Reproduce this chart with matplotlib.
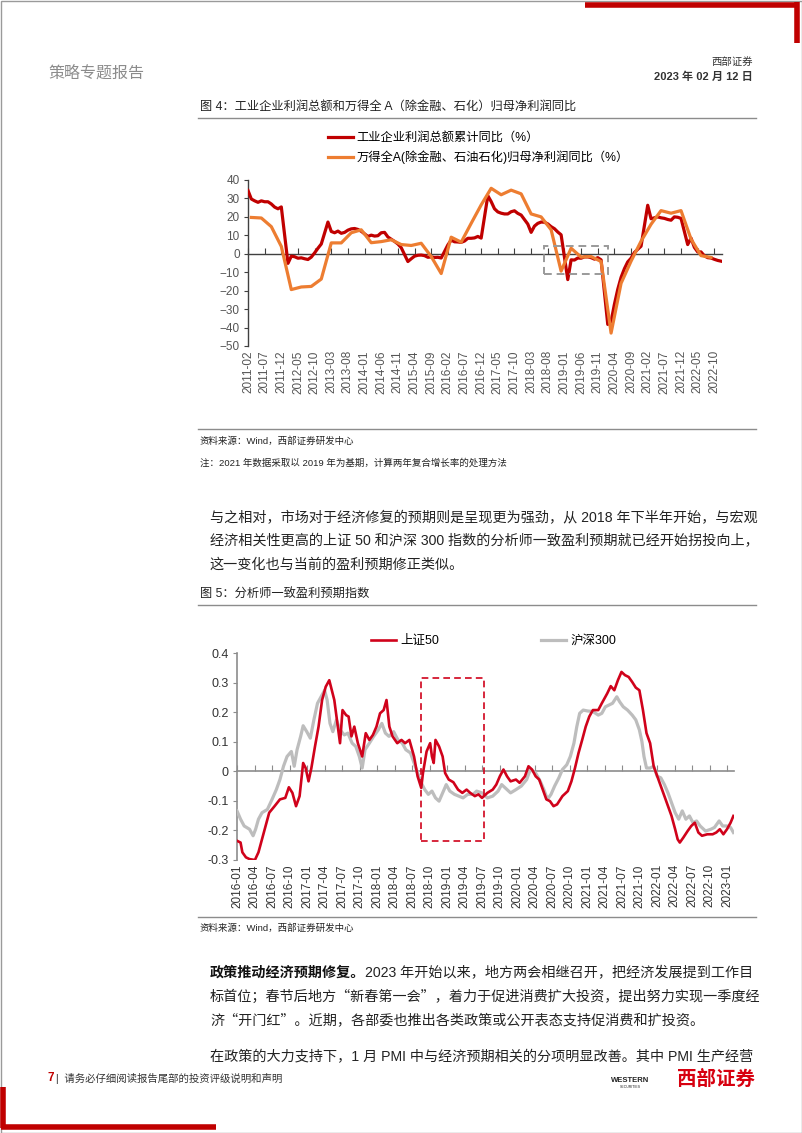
import matplotlib
matplotlib.use('Agg')
import matplotlib.pyplot as plt
from matplotlib.patches import Rectangle
import pandas as pd

plt.rcParams['font.family'] = ['Liberation Sans', 'Noto Sans CJK SC']

W, H = 802, 1133

# ---------------------------------------------------------------
# Figure 4 data (monthly, no January print for industrial profits)

ind_months = [d.strftime('%Y-%m') for d in pd.date_range('2011-02-01', '2022-12-01', freq='MS') if d.month != 1]
ind_profit = [
    34.3, 29.7, 28.7, 27.9, 28.7, 28.2, 28.2, 27.0, 25.3, 24.4, 25.4,      # 2011
    -5.2, -1.3, -1.6, -2.4, -2.2, -2.7, -3.1, -1.8, 0.5, 3.0, 5.3,         # 2012
    17.2, 12.1, 11.4, 12.3, 11.1, 11.6, 12.8, 13.5, 13.7, 13.2, 12.2,      # 2013
    9.4, 10.1, 9.6, 9.8, 11.4, 11.6, 9.1, 7.9, 6.7, 5.3, 3.3,              # 2014
    -4.2, -2.7, -1.3, -0.8, -0.7, -1.0, -1.9, -1.7, -2.0, -1.9, -2.3,      # 2015
    4.8, 7.4, 6.5, 6.4, 6.2, 6.9, 8.4, 8.4, 8.6, 9.4, 8.5,                 # 2016
    31.5, 28.3, 24.4, 22.7, 22.0, 21.6, 21.6, 22.8, 23.3, 21.9, 21.0,      # 2017
    16.1, 11.6, 15.0, 16.5, 17.2, 17.1, 16.2, 14.7, 13.6, 11.8, 10.3,      # 2018
    -14.0, -3.3, -3.4, -2.3, -2.4, -1.7, -1.7, -2.1, -2.9, -2.1, -3.3,     # 2019
    -38.3, -36.7, -27.4, -19.3, -12.8, -8.1, -4.4, -2.4, 0.7, 2.4, 4.1,    # 2020
    26.3, 19.0, 19.5, 20.0, 19.5, 19.2, 18.6, 18.2, 20.0, 19.8, 19.2,      # 2021
    5.0, 8.5, 3.5, 1.0, 1.0, -1.1, -2.1, -2.3, -3.0, -3.6, -4.0,           # 2022
]

wind_months = list(pd.date_range('2011-03-01', '2022-09-01', freq='3MS').strftime('%Y-%m'))
wind_profit = [
    19.7, 19.4, 14.7, 4.0,
    -19.4, -18.0, -17.7, -13.7,
    5.9, 5.9, 11.4, 13.0,
    6.0, 6.6, 7.6, 5.0,
    4.5, 5.7, -1.5, -10.7,
    9.0, 6.3, 16.5, 26.5,
    35.5, 32.0, 34.5, 32.5,
    21.6, 20.0, 13.0, -9.4,
    3.0, -1.8, -1.5, -4.2,
    -43.0, -16.0, -4.0, 6.8,
    16.0, 23.4, 22.0, 23.4,
    8.0, -1.0, -2.0,
]

fig4_ticklabels = list(pd.date_range('2011-02-01', '2022-10-01', freq='5MS').strftime('%Y-%m'))
fig4_box = ('2018-07', '2020-02', -11.2, 4.4)   # highlighted period

# ---------------------------------------------------------------
# Figure 5 data: months since 2016-01, index value

sz50_t = [0.00, 0.61, 0.92, 1.53, 2.15, 3.07, 3.68, 4.29, 4.91, 5.52,
          6.44, 7.36, 8.28, 8.89, 9.50, 10.12, 10.73, 11.34, 11.77, 12.26,
          12.75, 13.37, 13.98, 14.59, 15.21, 15.82, 16.25, 16.68, 17.29, 17.66,
          18.09, 18.70, 19.13, 19.62, 20.11, 20.72, 21.46, 22.07, 22.69, 23.30,
          23.91, 24.52, 25.14, 25.63, 26.12, 26.67, 27.47, 28.20, 28.82, 29.55,
          30.35, 30.96, 31.58, 31.88, 32.50, 33.11, 33.42, 33.72, 34.03, 34.64,
          35.25, 35.68, 36.30, 37.09, 37.89, 38.63, 39.36, 39.98, 40.77, 41.39,
          42.00, 42.92, 43.84, 44.45, 45.06, 45.68, 46.29, 46.90, 47.82, 48.44,
          49.36, 49.97, 50.58, 51.20, 51.81, 52.42, 53.03, 53.65, 54.26, 54.87,
          55.79, 56.71, 57.33, 57.94, 58.55, 59.17, 59.78, 60.39, 61.01, 61.93,
          62.54, 63.46, 64.07, 64.68, 65.30, 65.91, 66.52, 67.14, 67.75, 68.36,
          68.98, 69.59, 70.20, 70.82, 71.43, 72.04, 72.65, 73.27, 73.88, 74.49,
          75.11, 75.54, 75.91, 76.52, 77.25, 77.87, 78.48, 79.09, 79.71, 80.63,
          81.54, 82.16, 82.77, 83.38, 84.00, 84.61, 85.10]
sz50_v = [-0.235, -0.241, -0.274, -0.291, -0.297, -0.300, -0.274, -0.230, -0.185, -0.140,
          -0.118, -0.095, -0.090, -0.054, -0.073, -0.118, -0.084, 0.028, 0.011, -0.034,
          0.011, 0.084, 0.151, 0.241, 0.286, 0.308, 0.274, 0.241, 0.151, 0.095,
          0.207, 0.190, 0.185, 0.118, 0.151, 0.095, 0.050, 0.129, 0.106, 0.123,
          0.151, 0.196, 0.207, 0.241, 0.151, 0.118, 0.095, 0.106, 0.095, 0.106,
          0.050, -0.017, -0.056, -0.006, 0.067, 0.095, 0.050, 0.028, 0.106, 0.084,
          0.050, -0.006, -0.028, -0.037, -0.062, -0.073, -0.062, -0.073, -0.084, -0.078,
          -0.090, -0.073, -0.062, -0.045, -0.017, 0.006, -0.017, -0.034, -0.028, -0.039,
          -0.017, 0.017, 0.006, -0.017, -0.028, -0.062, -0.095, -0.101, -0.118, -0.112,
          -0.084, -0.067, -0.034, 0.011, 0.062, 0.106, 0.151, 0.185, 0.207, 0.207,
          0.230, 0.263, 0.288, 0.274, 0.308, 0.336, 0.325, 0.319, 0.302, 0.283,
          0.274, 0.207, 0.129, 0.095, 0.017, -0.017, -0.050, -0.084, -0.118, -0.151,
          -0.196, -0.230, -0.241, -0.224, -0.202, -0.185, -0.174, -0.207, -0.218, -0.213,
          -0.213, -0.207, -0.196, -0.213, -0.196, -0.174, -0.151]

hs300_t = [0.00, 0.61, 1.23, 2.15, 2.76, 3.19, 3.68, 4.29, 5.21, 6.01,
           6.74, 7.36, 7.97, 8.58, 9.32, 9.81, 10.30, 10.91, 11.34, 11.96,
           12.57, 13.18, 13.80, 14.41, 15.02, 15.45, 15.94, 16.43, 17.05, 17.66,
           18.39, 19.01, 19.74, 20.36, 20.97, 21.46, 21.95, 22.69, 23.42, 24.22,
           24.83, 25.44, 26.06, 26.85, 27.59, 28.33, 28.94, 29.74, 30.35, 30.96,
           31.58, 32.19, 32.80, 33.42, 34.03, 34.64, 35.25, 35.87, 36.48, 37.28,
           38.01, 38.75, 39.55, 40.47, 41.08, 42.00, 42.92, 43.84, 44.76, 45.37,
           45.98, 46.90, 47.82, 48.74, 49.66, 50.28, 51.20, 51.99, 52.61, 53.22,
           53.83, 54.45, 55.18, 55.79, 56.53, 57.14, 57.76, 58.25, 58.74, 59.35,
           60.09, 61.01, 61.93, 62.54, 63.15, 63.76, 64.38, 65.11, 65.60, 66.22,
           66.95, 67.75, 68.36, 68.98, 69.41, 69.77, 70.20, 70.82, 71.43, 72.04,
           72.65, 73.27, 73.88, 74.49, 75.11, 75.72, 76.33, 76.95, 77.56, 78.17,
           78.79, 79.40, 80.32, 81.24, 81.85, 82.65, 83.26, 84.00, 84.61, 85.10]
hs300_v = [-0.134, -0.162, -0.185, -0.196, -0.218, -0.196, -0.162, -0.140, -0.129, -0.095,
           -0.062, -0.028, 0.017, 0.050, 0.067, 0.017, 0.073, 0.118, 0.154, 0.134,
           0.112, 0.174, 0.230, 0.252, 0.274, 0.241, 0.162, 0.134, 0.174, 0.140,
           0.123, 0.129, 0.095, 0.084, 0.050, 0.011, 0.073, 0.095, 0.118, 0.140,
           0.162, 0.129, 0.118, 0.134, 0.106, 0.095, 0.073, 0.062, 0.028, -0.006,
           -0.039, -0.062, -0.078, -0.067, -0.090, -0.101, -0.073, -0.045, -0.067, -0.078,
           -0.084, -0.090, -0.078, -0.078, -0.067, -0.073, -0.090, -0.084, -0.067, -0.045,
           -0.056, -0.073, -0.062, -0.050, -0.028, 0.006, -0.006, -0.034, -0.062, -0.095,
           -0.078, -0.050, -0.022, 0.006, 0.022, 0.050, 0.095, 0.151, 0.196, 0.207,
           0.204, 0.202, 0.190, 0.196, 0.218, 0.224, 0.230, 0.252, 0.235, 0.218,
           0.207, 0.190, 0.174, 0.140, 0.101, 0.050, 0.011, 0.011, 0.017, -0.017,
           -0.022, -0.045, -0.073, -0.106, -0.140, -0.162, -0.134, -0.162, -0.151, -0.174,
           -0.168, -0.185, -0.202, -0.196, -0.190, -0.168, -0.185, -0.185, -0.190, -0.207]

fig5_ticklabels = list(pd.date_range('2016-01-01', '2023-01-01', freq='3MS').strftime('%Y-%m'))
fig5_box = (31.6, 42.3, -0.235, 0.314)


def month_idx(s, base_year, base_month):
    y, m = map(int, s.split('-'))
    return (y - base_year) * 12 + (m - base_month)


fig = plt.figure(figsize=(W / 100, H / 100), dpi=100)

# background axes in pixel coords for page furniture
bg = fig.add_axes([0, 0, 1, 1])
bg.set_xlim(0, W)
bg.set_ylim(H, 0)
bg.axis('off')

RED = '#C00000'
CJK = ['Noto Sans CJK SC', 'Liberation Sans']
bg.add_patch(Rectangle((0.5, 0.5), W - 1, H - 1, fill=False, ec='#9a9a9a', lw=1))
bg.plot([585, 797], [4.5, 4.5], color=RED, lw=4, solid_capstyle='butt')
bg.plot([797, 797], [2, 43], color=RED, lw=4, solid_capstyle='butt')
bg.plot([3, 3], [1087, 1128], color=RED, lw=4, solid_capstyle='butt')
bg.plot([1, 216], [1127, 1127], color=RED, lw=4, solid_capstyle='butt')

bg.text(48, 73, '策略专题报告', fontsize=11.5, color='#8c8c8c', va='center')
bg.text(753, 62, '西部证券', fontsize=7.5, color='#333333', va='center', ha='right')
bg.text(753, 77, '2023 年 02 月 12 日', fontsize=8, color='#333333', va='center', ha='right',
        fontweight='bold')

text_c = '#222222'
line_c = '#8c8c8c'
PF = 10.15

# figure 4 heading
bg.text(200, 107, '图 4：工业企业利润总额和万得全 A（除金融、石化）归母净利润同比', fontsize=8.8,
        color=text_c, va='center')
bg.plot([198, 756], [118, 118], color=line_c, lw=1)
bg.plot([198, 756], [429, 429], color=line_c, lw=1)
bg.text(200, 441, '资料来源：Wind，西部证券研发中心', fontsize=6.8, color=text_c, va='center')
bg.text(200, 463, '注：2021 年数据采取以 2019 年为基期，计算两年复合增长率的处理方法', fontsize=6.8,
        color=text_c, va='center')

para1 = ['与之相对，市场对于经济修复的预期则是呈现更为强劲，从 2018 年下半年开始，与宏观',
         '经济相关性更高的上证 50 和沪深 300 指数的分析师一致盈利预期就已经开始拐投向上，',
         '这一变化也与当前的盈利预期修正类似。']
for i, line in enumerate(para1):
    bg.text(210, 518 + i * 23.5, line, fontsize=PF, color=text_c, va='center')

bg.text(200, 594, '图 5：分析师一致盈利预期指数', fontsize=8.8, color=text_c, va='center')
bg.plot([198, 756], [605, 605], color=line_c, lw=1)
bg.plot([198, 756], [917, 917], color=line_c, lw=1)
bg.text(200, 928, '资料来源：Wind，西部证券研发中心', fontsize=6.8, color=text_c, va='center')

t_bold = bg.text(210, 973, '政策推动经济预期修复。', fontsize=PF, color='#111111', va='center',
                 fontweight='bold')
bg.annotate('2023 年开始以来，地方两会相继召开，把经济发展提到工作目', xy=(1, 0.5), xycoords=t_bold,
            fontsize=PF, color=text_c, va='center', ha='left')
para2 = ['标首位；春节后地方“新春第一会”，着力于促进消费扩大投资，提出努力实现一季度经',
         '济“开门红”。近期，各部委也推出各类政策或公开表态支持促消费和扩投资。']
for i, line in enumerate(para2):
    bg.text(210, 997 + i * 23.5, line, fontsize=PF, color=text_c, va='center', family=CJK)
bg.text(210, 1057, '在政策的大力支持下，1 月 PMI 中与经济预期相关的分项明显改善。其中 PMI 生产经营',
        fontsize=PF, color=text_c, va='center')

# footer
bg.text(48, 1078, '7', fontsize=8.5, color=RED, fontweight='bold', va='center')
bg.text(56, 1078, '|  请务必仔细阅读报告尾部的投资评级说明和声明', fontsize=7.5, color='#333333', va='center')
bg.text(630, 1080, 'WESTERN', fontsize=5.5, color='#222222', fontweight='bold', va='center', ha='center')
bg.text(630, 1087, 'SECURITIES', fontsize=2.5, color='#222222', va='center', ha='center')
bg.text(755, 1079, '西部证券', fontsize=14, color='#D7000F', fontweight='bold', va='center', ha='right')

# ---------------------------------------------------------------
# Figure 4 chart
ax1 = fig.add_axes([248 / W, 1 - 346 / H, 474 / W, 166 / H])
x_ind = [month_idx(m, 2011, 2) for m in ind_months]
x_wind = [month_idx(m, 2011, 2) for m in wind_months]
ax1.plot(x_ind, ind_profit, color=RED, lw=2.3, label='工业企业利润总额累计同比（%）', zorder=3)
ax1.plot(x_wind, wind_profit, color='#ED7D31', lw=2.3,
         label='万得全A(除金融、石油石化)归母净利润同比（%）', zorder=4)

b0, b1, blo, bhi = fig4_box
ax1.add_patch(Rectangle((month_idx(b0, 2011, 2), blo), month_idx(b1, 2011, 2) - month_idx(b0, 2011, 2),
                        bhi - blo, fill=False, ec='#9a9a9a', lw=1.4, ls=(0, (4, 2.5)), zorder=5))

ax1.set_xlim(0, 142.3)
ax1.set_ylim(-50, 40)
ax1.set_yticks(range(-50, 41, 10))
ax1.set_facecolor('none')
for s in ['top', 'right']:
    ax1.spines[s].set_visible(False)
ax1.spines['bottom'].set_position(('data', 0))
for s in ['left', 'bottom']:
    ax1.spines[s].set_color('#404040')
    ax1.spines[s].set_linewidth(1)
tick_pos1 = [month_idx(m, 2011, 2) for m in fig4_ticklabels]
ax1.set_xticks(tick_pos1)
ax1.tick_params(axis='x', direction='in', length=4, color='#404040', labelbottom=False)
ax1.tick_params(axis='y', direction='out', length=3, color='#404040', labelsize=8.5, labelcolor='#555555',
                pad=3)
sec1 = ax1.secondary_xaxis('bottom')
sec1.set_xticks(tick_pos1, labels=fig4_ticklabels, rotation=90)
sec1.tick_params(length=0, labelsize=8.5, labelcolor='#555555', pad=3)
sec1.spines['bottom'].set_visible(False)

fig.legend(loc='center left', bbox_to_anchor=(322 / W, 1 - 148 / H), frameon=False, fontsize=8.8,
           handlelength=2.0, handletextpad=0.3, labelspacing=0.55, borderpad=0)

# ---------------------------------------------------------------
# Figure 5 chart
ax2 = fig.add_axes([237 / W, 1 - 860 / H, 497 / W, 207 / H])
ax2.plot(sz50_t, sz50_v, color='#D0021B', lw=1.9, label='上证50', zorder=4)
ax2.plot(hs300_t, hs300_v, color='#BDBDBD', lw=2.3, label='沪深300', zorder=3)
c0, c1, clo, chi = fig5_box
ax2.add_patch(Rectangle((c0, clo), c1 - c0, chi - clo, fill=False, ec='#D0021B', lw=1.2,
                        ls=(0, (4, 2.5)), zorder=5))
ax2.set_xlim(0, 85.2)
ax2.set_ylim(-0.3, 0.4)
yt = [-0.3, -0.2, -0.1, 0, 0.1, 0.2, 0.3, 0.4]
ax2.set_yticks(yt, labels=['-0.3', '-0.2', '-0.1', '0', '0.1', '0.2', '0.3', '0.4'])
ax2.set_facecolor('none')
for s in ['top', 'right']:
    ax2.spines[s].set_visible(False)
ax2.spines['bottom'].set_position(('data', 0))
for s in ['left', 'bottom']:
    ax2.spines[s].set_color('#8c8c8c')
    ax2.spines[s].set_linewidth(1.2)
tick_pos2 = list(range(0, 85, 3))
ax2.set_xticks(tick_pos2)
ax2.tick_params(axis='x', direction='in', length=4, color='#8c8c8c', labelbottom=False)
ax2.tick_params(axis='y', direction='out', length=3, color='#8c8c8c', labelsize=9, labelcolor='#333333',
                pad=3)
sec2 = ax2.secondary_xaxis('bottom')
sec2.set_xticks(tick_pos2, labels=fig5_ticklabels, rotation=90)
sec2.tick_params(length=0, labelsize=8.5, labelcolor='#333333', pad=3)
sec2.spines['bottom'].set_visible(False)

ax2.legend(loc='center left', bbox_to_anchor=(365 / W, 1 - 641 / H), bbox_transform=fig.transFigure,
           ncol=2, frameon=False, fontsize=9, handlelength=2.0, handletextpad=0.3, columnspacing=8.2,
           borderpad=0)

fig.savefig('out.png', dpi=100)
